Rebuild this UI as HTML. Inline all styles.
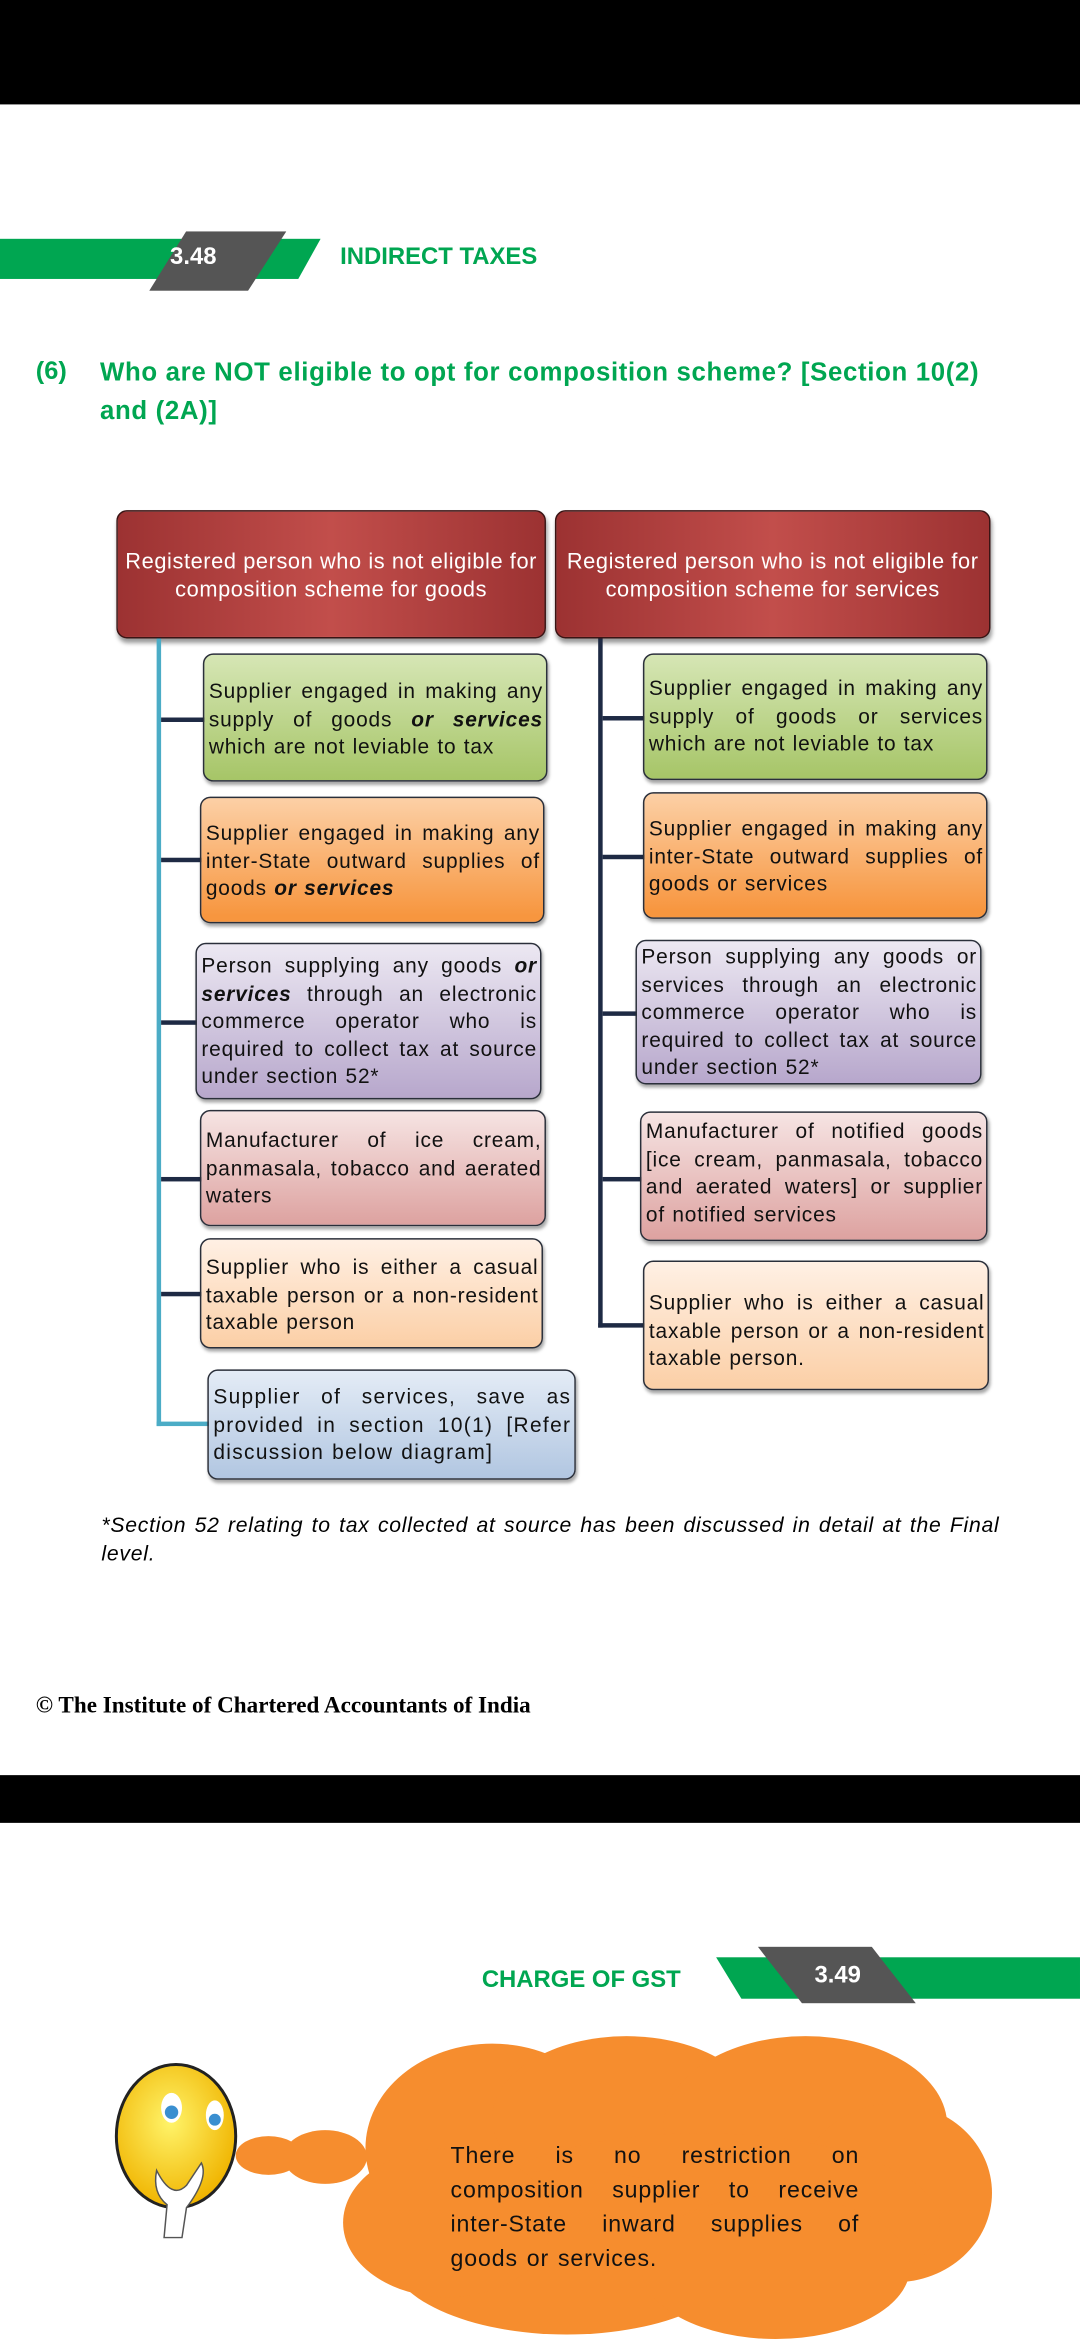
<!DOCTYPE html>
<html><head><meta charset="utf-8"><style>
html,body{margin:0;padding:0;background:#fff;width:1080px;height:2340px;overflow:hidden}
#w{position:absolute;left:0;top:0;width:724px;height:1569px;transform:scale(1.49171);transform-origin:0 0;font-family:"Liberation Sans",sans-serif}
.a{position:absolute}
.box{position:absolute;box-sizing:border-box;border:1.5px solid #2a2f3a;border-radius:7px;padding:1px 2px 0 3px;font-size:14px;letter-spacing:0.55px;word-spacing:0.5px;line-height:18.6px;color:#111;text-align:justify;text-align-last:left;box-shadow:1px 2px 2px rgba(0,0,0,.35)}
.g{background:linear-gradient(#d6e6b5,#a6c567)}
.o{background:linear-gradient(#fcd0a6,#f7963f 95%)}
.p{background:linear-gradient(#ece8f2,#b7a7cc)}
.k{background:linear-gradient(#f6e4e3,#dda2a0)}
.e{background:linear-gradient(#fff0e4,#fbcfa6)}
.b{background:linear-gradient(#e4ecf6,#b1c6e1)}
.red{position:absolute;box-sizing:border-box;height:86px;top:342px;border:1.5px solid #3a1414;border-radius:7px;background:linear-gradient(90deg,#9c3232,#c24e4b 50%,#9c3232);color:#fff;font-size:14.6px;letter-spacing:0.4px;line-height:18.5px;text-align:center;padding-top:25px;box-shadow:1px 3px 3px rgba(0,0,0,.4)}
.st{position:absolute;height:3px;background:#1e2a44}
</style></head><body><div id="w">
<div class="a" style="left:0;top:0;width:724px;height:70px;background:#000"></div>
<div class="a" style="left:0;top:160px;width:215px;height:27px;background:#00a651;clip-path:polygon(0 0,100% 0,93% 100%,0 100%)"></div>
<div class="a" style="left:100px;top:155px;width:92px;height:40px;background:#555;clip-path:polygon(27% 0,100% 0,72% 100%,0 100%)"></div>
<div class="a" style="left:114px;top:164px;color:#fff;font-weight:bold;font-size:16px">3.48</div>
<div class="a" style="left:228px;top:164px;color:#00a651;font-weight:bold;font-size:16px">INDIRECT TAXES</div>
<div class="a" style="left:24px;top:236px;color:#00a651;font-weight:bold;font-size:17px;line-height:26px">(6)</div>
<div class="a" style="left:67px;top:236px;width:610px;color:#00a651;font-weight:bold;font-size:17.3px;letter-spacing:0.45px;line-height:26px">Who are NOT eligible to opt for composition scheme? [Section 10(2) and (2A)]</div>

<div class="red" style="left:78px;width:288px">Registered person who is not eligible for composition scheme for goods</div>
<div class="red" style="left:372px;width:292px">Registered person who is not eligible for composition scheme for services</div>

<div class="a" style="left:105px;top:428px;width:3px;height:528px;background:#4bacc6"></div>
<div class="a" style="left:105px;top:953px;width:36px;height:3px;background:#4bacc6"></div>
<div class="st" style="left:108px;top:481px;width:29px"></div>
<div class="st" style="left:108px;top:575px;width:27px"></div>
<div class="st" style="left:108px;top:684px;width:24px"></div>
<div class="st" style="left:108px;top:789px;width:27px"></div>
<div class="st" style="left:108px;top:866px;width:27px"></div>
<div class="a" style="left:401px;top:428px;width:3px;height:462px;background:#1e2a44"></div>
<div class="st" style="left:401px;top:887px;width:31px"></div>
<div class="st" style="left:404px;top:480px;width:28px"></div>
<div class="st" style="left:404px;top:573px;width:28px"></div>
<div class="st" style="left:404px;top:678px;width:23px"></div>
<div class="st" style="left:404px;top:789px;width:26px"></div>

<div class="box g" style="left:136px;top:438px;width:231px;height:86px;padding-top:15px">Supplier engaged in making any supply of goods <b><i>or services</i></b> which are not leviable to tax</div>
<div class="box o" style="left:134px;top:534px;width:231px;height:85px;padding-top:14px">Supplier engaged in making any inter-State outward supplies of goods <b><i>or services</i></b></div>
<div class="box p" style="left:131px;top:632px;width:232px;height:105px;padding-top:5px">Person supplying any goods <b><i>or services</i></b> through an electronic commerce operator who is required to collect tax at source under section 52*</div>
<div class="box k" style="left:134px;top:744px;width:232px;height:78px;padding-top:10px">Manufacturer of ice cream, panmasala, tobacco and aerated waters</div>
<div class="box e" style="left:134px;top:830px;width:230px;height:74px;padding-top:9px">Supplier who is either a casual taxable person or a non-resident taxable person</div>
<div class="box b" style="left:139px;top:918px;width:247px;height:74px;padding-top:8px;letter-spacing:0.9px">Supplier of services, save as provided in section 10(1) [Refer discussion below diagram]</div>

<div class="box g" style="left:431px;top:438px;width:231px;height:85px;padding-top:13px">Supplier engaged in making any supply of goods or services which are not leviable to tax</div>
<div class="box o" style="left:431px;top:531px;width:231px;height:85px;padding-top:14px">Supplier engaged in making any inter-State outward supplies of goods or services</div>
<div class="box p" style="left:426px;top:630px;width:232px;height:97px;padding-top:1px">Person supplying any goods or services through an electronic commerce operator who is required to collect tax at source under section 52*</div>
<div class="box k" style="left:429px;top:745px;width:233px;height:87px;padding-top:3px">Manufacturer of notified goods [ice cream, panmasala, tobacco and aerated waters] or supplier of notified services</div>
<div class="box e" style="left:431px;top:845px;width:232px;height:87px;padding-top:18px">Supplier who is either a casual taxable person or a non-resident taxable person.</div>

<div class="a" style="left:68px;top:1014px;width:602px;font-size:14.2px;letter-spacing:0.5px;line-height:19px;font-style:italic;text-align:justify;text-align-last:left">*Section 52 relating to tax collected at source has been discussed in detail at the Final level.</div>
<div class="a" style="left:24px;top:1135px;font-family:'Liberation Serif',serif;font-weight:bold;font-size:15.5px">© The Institute of Chartered Accountants of India</div>

<div class="a" style="left:0;top:1190px;width:724px;height:32px;background:#000"></div>

<div class="a" style="left:323px;top:1319px;color:#00a651;font-weight:bold;font-size:16px">CHARGE OF GST</div>
<div class="a" style="left:480px;top:1312px;width:244px;height:28px;background:#00a651;clip-path:polygon(0 0,100% 0,100% 100%,7% 100%)"></div>
<div class="a" style="left:508px;top:1305px;width:106px;height:38px;background:#555;clip-path:polygon(0 0,72% 0,100% 100%,28% 100%)"></div>
<div class="a" style="left:546px;top:1316px;color:#fff;font-weight:bold;font-size:16px">3.49</div>

<svg class="a" style="left:0;top:1360px" width="724" height="209">
<defs><radialGradient id="y" cx="45%" cy="40%" r="60%"><stop offset="0" stop-color="#fff46a"/><stop offset="1" stop-color="#f0b400"/></radialGradient></defs>
<ellipse cx="118" cy="72" rx="40" ry="48" fill="url(#y)" stroke="#222" stroke-width="2"/>
<ellipse cx="115" cy="53" rx="7" ry="10" fill="#fff"/><circle cx="115" cy="56" r="4.5" fill="#3a8fd0"/>
<ellipse cx="144" cy="58" rx="6" ry="10" fill="#fff"/><circle cx="144" cy="61" r="4" fill="#3a8fd0"/>
<path d="M105 95 q10 20 20 10 l10 -15 q5 10 -10 30 l-3 20 h-12 l2 -22 q-10 -8 -7 -23z" fill="#fff" stroke="#555"/>
<g fill="#f68d2e">
<ellipse cx="180" cy="85" rx="22" ry="13"/><ellipse cx="218" cy="86" rx="28" ry="18"/>
<ellipse cx="330" cy="80" rx="85" ry="70"/><ellipse cx="420" cy="60" rx="90" ry="55"/><ellipse cx="540" cy="65" rx="95" ry="60"/>
<ellipse cx="600" cy="110" rx="65" ry="60"/><ellipse cx="470" cy="130" rx="160" ry="60"/><ellipse cx="380" cy="150" rx="120" ry="55"/>
<ellipse cx="520" cy="160" rx="90" ry="48"/><ellipse cx="300" cy="130" rx="70" ry="50"/>
</g>
</svg>
<div class="a" style="left:302px;top:1434px;width:274px;font-size:15.5px;letter-spacing:0.6px;word-spacing:1px;line-height:23px;color:#111">
<div style="text-align:justify;text-align-last:justify">There is no restriction on composition supplier to receive inter-State inward supplies of</div>
<div>goods or services.</div></div>
</div></body></html>
